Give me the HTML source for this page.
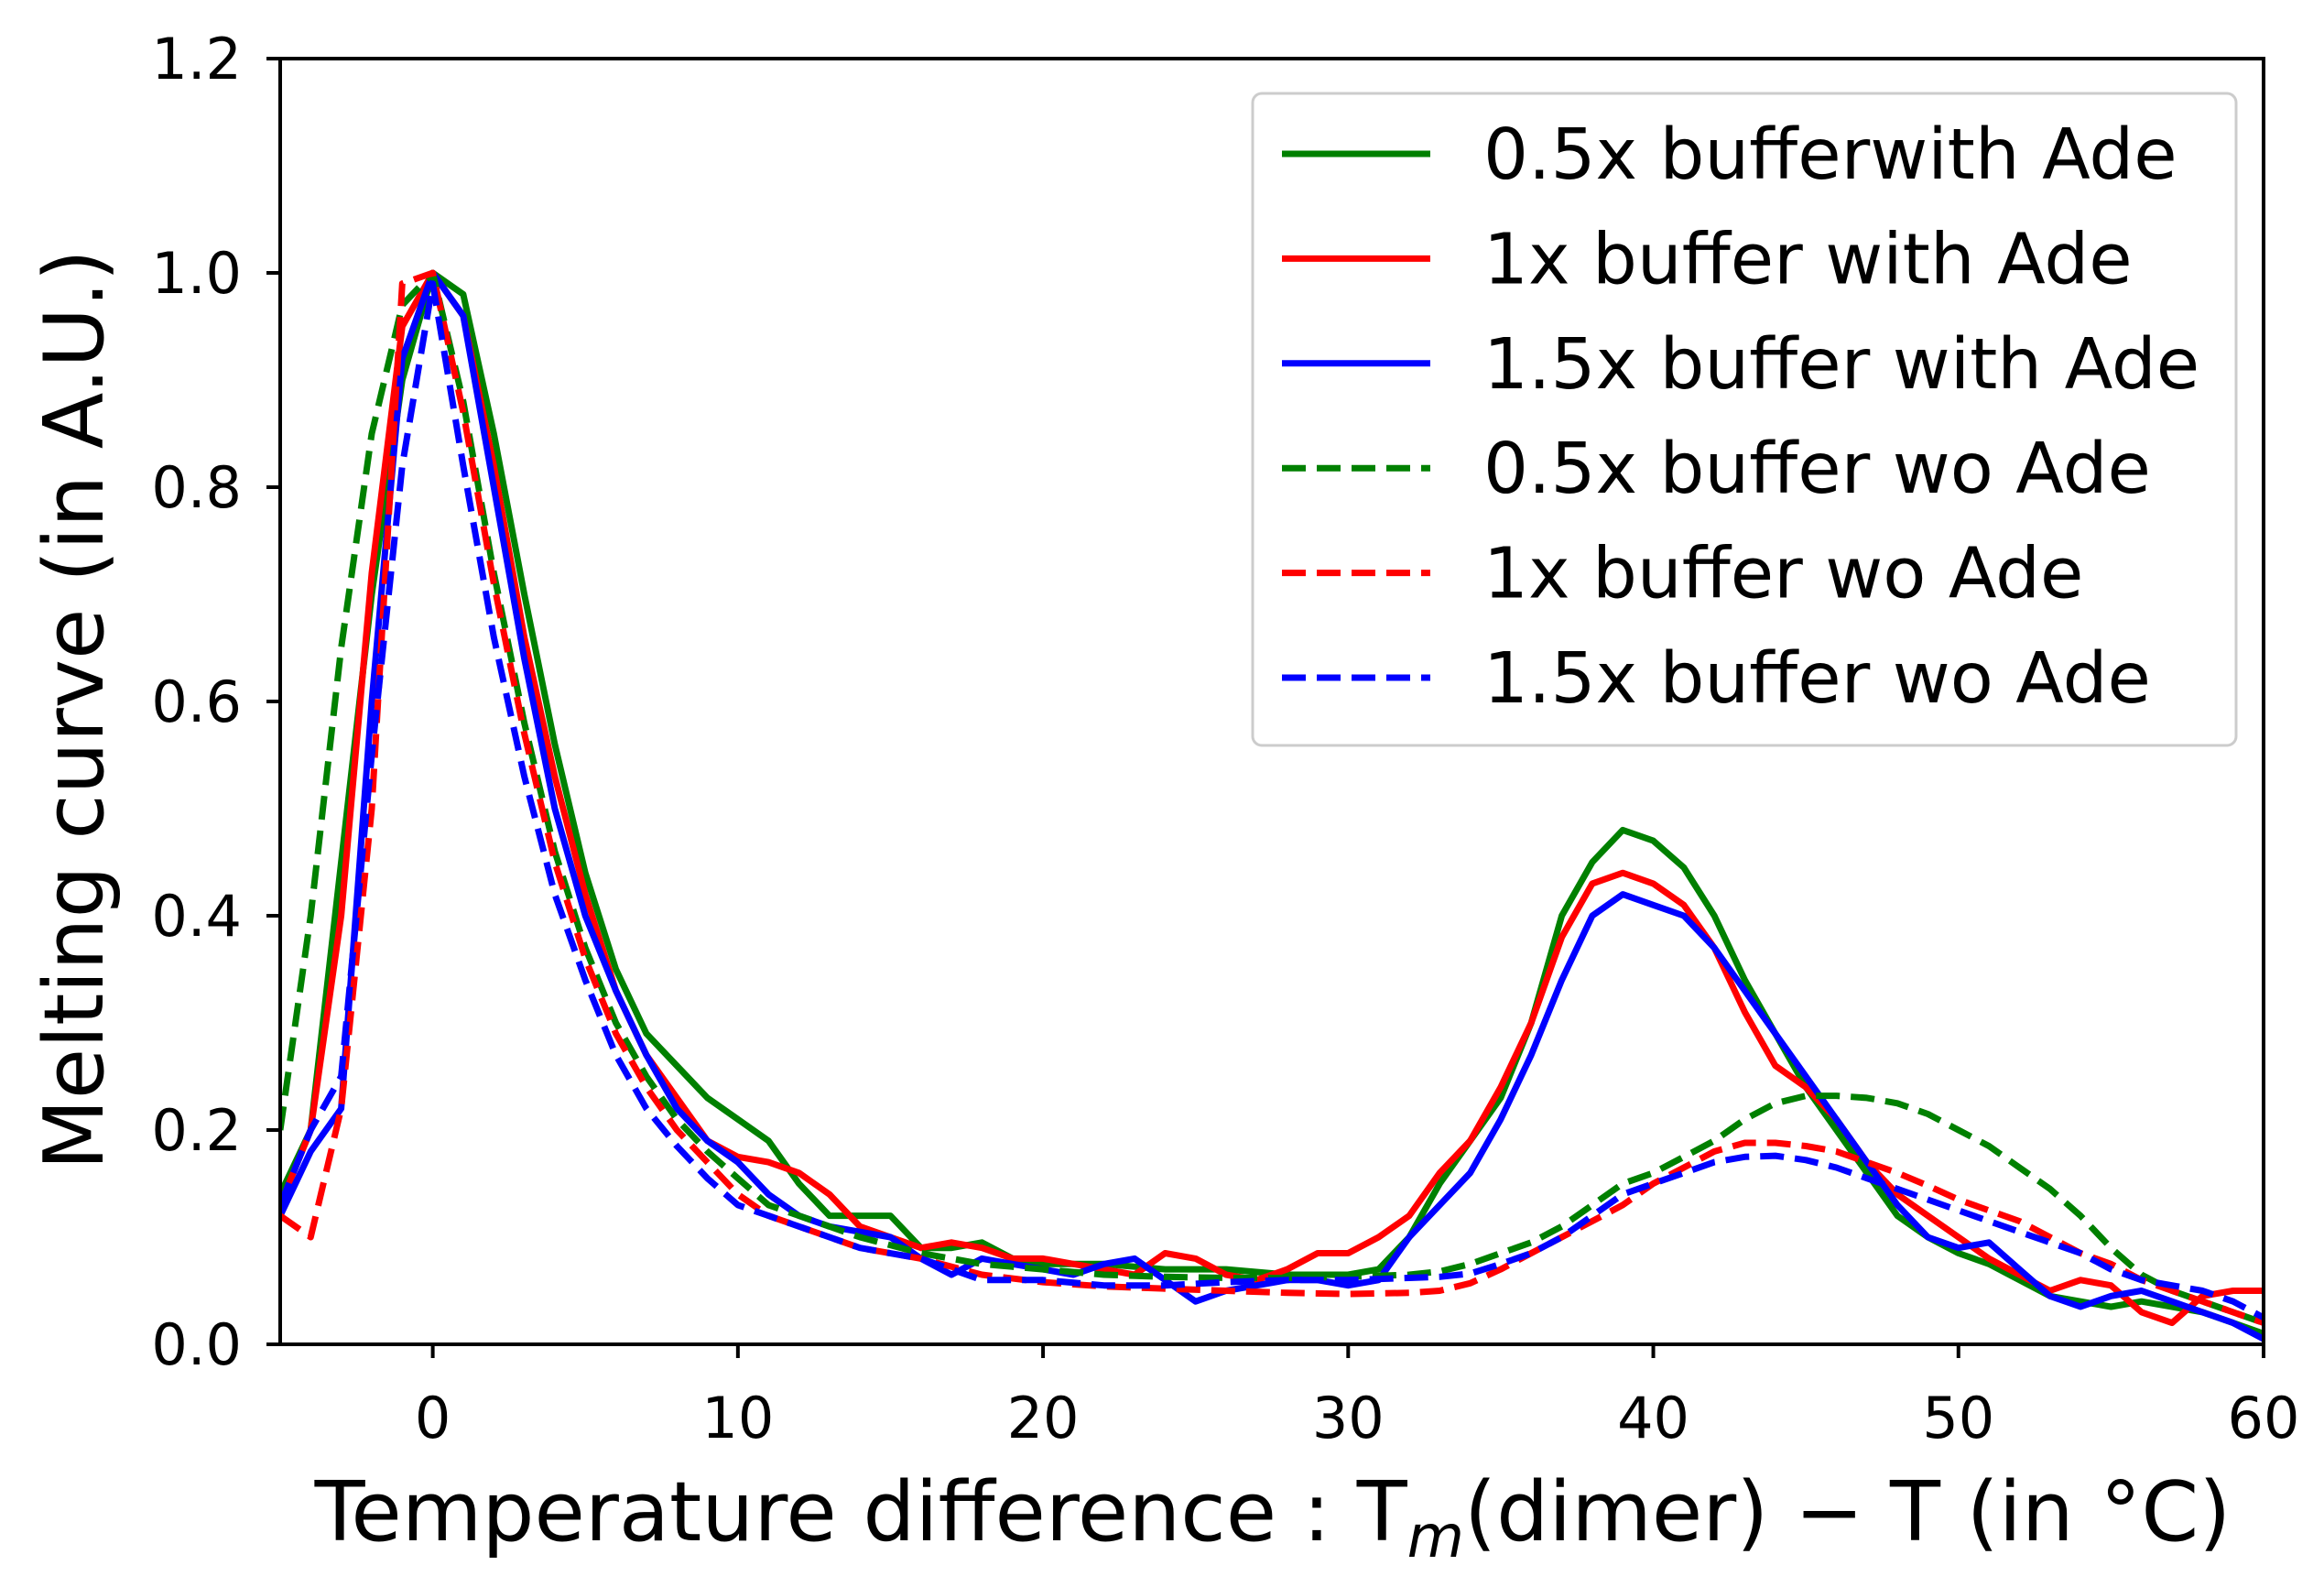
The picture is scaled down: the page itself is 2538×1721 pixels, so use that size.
<!DOCTYPE html>
<html><head><meta charset="utf-8"><style>
html,body{margin:0;padding:0;background:#fff;}
svg{display:block;font-family:"DejaVu Sans","Liberation Sans",sans-serif;}
</style></head><body>
<svg id="chart" width="2538" height="1721" viewBox="0 0 2538 1721" xmlns="http://www.w3.org/2000/svg">
<rect width="2538" height="1721" fill="#fff"/>
<g id="plot"></g>
<g id="axes"></g>
<g id="legend"></g>
</svg>
<script>
const xTicks=[0,10,20,30,40,50,60];
const yTicks=[0.0,0.2,0.4,0.6,0.8,1.0,1.2];
const yTickLabels=["0.0","0.2","0.4","0.6","0.8","1.0","1.2"];
const seriesNames=["0.5x bufferwith Ade","1x buffer with Ade","1.5x buffer with Ade","0.5x buffer wo Ade","1x buffer wo Ade","1.5x buffer wo Ade"];
const xFull=[-5,-4,-3,-2,-1,0,1,2,3,4,5,6,7,8,9,10,11,12,13,14,15,16,17,18,19,20,21,22,23,24,25,26,27,28,29,30,31,32,33,34,35,36,37,38,39,40,41,42,43,44,45,46,47,48,49,50,51,52,53,54,55,56,57,58,59,60];
const xGreenSolid=[-5,-4,-3,-2,-1,0,1,2,3,4,5,6,7,8,9,10,11,12,13,14,15,16,17,18,19,20,22,24,26,28,30,31,32,33,34,35,36,37,38,39,40,41,42,43,44,45,46,47,48,49,50,51,52,53,54,55,56,57,58,59,60];
const yGreenSolid=[0.14,0.2,0.45,0.7,0.9,1.0,0.98,0.85,0.7,0.56,0.44,0.35,0.29,0.26,0.23,0.21,0.19,0.15,0.12,0.12,0.12,0.09,0.09,0.095,0.08,0.075,0.075,0.07,0.07,0.065,0.065,0.07,0.1,0.15,0.19,0.23,0.3,0.4,0.45,0.48,0.47,0.445,0.4,0.34,0.29,0.24,0.2,0.16,0.12,0.1,0.085,0.075,0.06,0.045,0.04,0.035,0.04,0.035,0.03,0.02,0.01];
const yRedSolid=[0.13,0.2,0.4,0.72,0.95,1.0,0.96,0.82,0.66,0.53,0.42,0.33,0.27,0.23,0.19,0.175,0.17,0.16,0.14,0.11,0.1,0.09,0.095,0.09,0.08,0.08,0.075,0.07,0.065,0.085,0.08,0.065,0.06,0.07,0.085,0.085,0.1,0.12,0.16,0.19,0.24,0.3,0.38,0.43,0.44,0.43,0.41,0.37,0.31,0.26,0.24,0.21,0.17,0.14,0.12,0.1,0.08,0.065,0.05,0.06,0.055,0.03,0.02,0.045,0.05,0.05];
const yBlueSolid=[0.12,0.18,0.22,0.6,0.92,1.0,0.96,0.8,0.64,0.5,0.4,0.33,0.27,0.22,0.19,0.17,0.14,0.12,0.11,0.105,0.1,0.08,0.065,0.08,0.075,0.07,0.065,0.075,0.08,0.06,0.04,0.05,0.055,0.06,0.06,0.055,0.06,0.1,0.13,0.16,0.21,0.27,0.34,0.4,0.42,0.41,0.4,0.37,0.33,0.29,0.25,0.21,0.17,0.13,0.1,0.09,0.095,0.07,0.045,0.035,0.045,0.05,0.04,0.03,0.02,0.005];
const xDashed=[-5,-4,-3,-2,-1,0,1,2,3,4,5,6,7,8,9,10,11,12,14,16,18,20,22,24,26,28,30,32,33,34,35,36,37,38,39,40,41,42,43,44,45,46,47,48,49,50,51,52,53,54,55,56,57,58,59,60];
const yGreenDashed=[0.2,0.4,0.65,0.85,0.97,1.0,0.88,0.72,0.58,0.46,0.37,0.3,0.25,0.21,0.18,0.155,0.13,0.12,0.1,0.085,0.075,0.07,0.065,0.063,0.062,0.062,0.063,0.065,0.068,0.075,0.085,0.095,0.11,0.13,0.15,0.16,0.175,0.19,0.21,0.225,0.232,0.232,0.23,0.225,0.215,0.2,0.185,0.165,0.145,0.12,0.09,0.065,0.05,0.04,0.03,0.02];
const yRedDashed=[0.12,0.1,0.22,0.5,0.99,1.0,0.87,0.71,0.57,0.45,0.36,0.29,0.24,0.2,0.17,0.14,0.12,0.11,0.09,0.08,0.065,0.058,0.054,0.052,0.05,0.048,0.047,0.048,0.05,0.057,0.07,0.085,0.1,0.115,0.13,0.15,0.165,0.18,0.188,0.188,0.185,0.18,0.17,0.16,0.148,0.135,0.125,0.115,0.1,0.085,0.075,0.06,0.05,0.04,0.03,0.02];
const yBlueDashed=[0.13,0.2,0.25,0.55,0.82,0.99,0.82,0.66,0.53,0.42,0.34,0.27,0.22,0.185,0.155,0.13,0.12,0.11,0.09,0.08,0.06,0.06,0.055,0.055,0.058,0.06,0.06,0.062,0.063,0.066,0.075,0.085,0.1,0.12,0.14,0.15,0.16,0.17,0.175,0.176,0.172,0.165,0.155,0.145,0.135,0.125,0.115,0.105,0.095,0.085,0.07,0.06,0.055,0.05,0.04,0.025];

const NS="http://www.w3.org/2000/svg";
const L=306,R=2472,T=64,B=1468,X0=-5,X1=60,Y0=0,Y1=1.2;
const sx=v=>L+(v-X0)/(X1-X0)*(R-L);
const sy=v=>B-(v-Y0)/(Y1-Y0)*(B-T);
function mk(tag,attrs,parent){const e=document.createElementNS(NS,tag);for(const k in attrs)e.setAttribute(k,attrs[k]);parent.appendChild(e);return e;}
const plot=document.getElementById('plot'),axes=document.getElementById('axes'),leg=document.getElementById('legend');
const DASH="26 12";
const series=[
 {xs:xGreenSolid,ys:yGreenSolid,c:"#008000",d:null,n:"series-green-solid"},
 {xs:xFull,ys:yRedSolid,c:"#ff0000",d:null,n:"series-red-solid"},
 {xs:xFull,ys:yBlueSolid,c:"#0000ff",d:null,n:"series-blue-solid"},
 {xs:xDashed,ys:yGreenDashed,c:"#008000",d:DASH,n:"series-green-dashed"},
 {xs:xDashed,ys:yRedDashed,c:"#ff0000",d:DASH,n:"series-red-dashed"},
 {xs:xDashed,ys:yBlueDashed,c:"#0000ff",d:DASH,n:"series-blue-dashed"}
];
const cp=mk('clipPath',{id:'clip'},plot);mk('rect',{x:L,y:T,width:R-L,height:B-T},cp);
series.forEach(s=>{
 const pts=s.xs.map((x,i)=>sx(x).toFixed(1)+","+sy(s.ys[i]).toFixed(1)).join(" ");
 const a={points:pts,fill:"none",stroke:s.c,"stroke-width":7,"stroke-linejoin":"round","clip-path":"url(#clip)"};
 if(s.d)a["stroke-dasharray"]=s.d;
 const p=mk('polyline',a,plot);
 
 
});
const frame=mk('rect',{x:L,y:T,width:R-L,height:B-T,fill:"none",stroke:"#000","stroke-width":4},axes);


xTicks.forEach(v=>{
 mk('line',{x1:sx(v),x2:sx(v),y1:B,y2:B+15,stroke:"#000","stroke-width":4},axes);
 const t=mk('text',{x:sx(v),y:1570,"font-size":62,"text-anchor":"middle",fill:"#000"},axes);t.textContent=v;
 
 
});
yTicks.forEach((v,i)=>{
 mk('line',{x1:L-15,x2:L,y1:sy(v),y2:sy(v),stroke:"#000","stroke-width":4},axes);
 const t=mk('text',{x:264,y:sy(v)+22,"font-size":62,"text-anchor":"end",fill:"#000"},axes);t.textContent=yTickLabels[i];
 
 
});
const xl=mk('text',{x:1390,y:1682,"font-size":90,"text-anchor":"middle",fill:"#000"},axes);
xl.innerHTML='Temperature difference : T<tspan font-style="italic" font-size="64" dy="18">m</tspan><tspan dy="-18">(dimer) − T (in °C)</tspan>';


const yl=mk('text',{x:0,y:0,"font-size":90,"text-anchor":"middle",fill:"#000",transform:"translate(112,775) rotate(-90)"},axes);
yl.textContent="Melting curve (in A.U.)";


const lb=mk('rect',{x:1368,y:102,width:1074,height:712,rx:10,fill:"#fff","fill-opacity":0.85,stroke:"#ccc","stroke-width":3},leg);


series.forEach((s,i)=>{
 const y=168+i*114.4;
 const a={x1:1400,x2:1562,y1:y,y2:y,stroke:s.c,"stroke-width":7};
 if(s.d)a["stroke-dasharray"]=s.d;
 const ln=mk('line',a,leg);
 
 
 const t=mk('text',{x:1620,y:y+27,"font-size":77,fill:"#000"},leg);t.textContent=seriesNames[i];
 
 
});
</script>
</body></html>
